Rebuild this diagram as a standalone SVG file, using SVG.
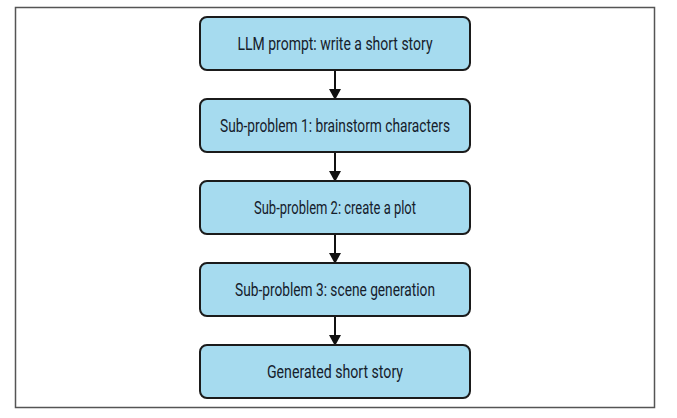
<svg xmlns="http://www.w3.org/2000/svg" width="677" height="418" viewBox="0 0 677 418">
<style>
.box{fill:#a6dbef;stroke:#1b1b1b;stroke-width:2}
.lbl{font-family:"Roboto","Liberation Sans",sans-serif;font-size:18.5px;fill:#15202b;text-anchor:middle;dominant-baseline:central}
.conn{stroke:#111;stroke-width:2;fill:none;marker-end:url(#ah)}
</style>
<defs>
<marker id="ah" markerWidth="13" markerHeight="12" refX="12" refY="6.5" orient="auto" markerUnits="userSpaceOnUse" viewBox="0 0 12 13">
<path d="M0,0 L12,6.5 L0,13 Z" fill="#111"/>
</marker>
</defs>
<rect x="0" y="0" width="677" height="418" fill="#fff"/>
<rect x="15.5" y="7.5" width="639" height="400" fill="none" stroke="#555" stroke-width="1.5"/>
<g id="connectors">
<line class="conn" x1="335" y1="70" x2="335" y2="100"/>
<line class="conn" x1="335" y1="152" x2="335" y2="182"/>
<line class="conn" x1="335" y1="234" x2="335" y2="264"/>
<line class="conn" x1="335" y1="316" x2="335" y2="346"/>
</g>
<g id="n1"><rect class="box" x="200" y="17" width="270" height="53" rx="7"/><text class="lbl" x="335" y="43.5" textLength="195" lengthAdjust="spacingAndGlyphs">LLM prompt: write a short story</text></g>
<g id="n2"><rect class="box" x="200" y="99" width="270" height="53" rx="7"/><text class="lbl" x="335" y="125.5" textLength="230" lengthAdjust="spacingAndGlyphs">Sub-problem 1: brainstorm characters</text></g>
<g id="n3"><rect class="box" x="200" y="181" width="270" height="53" rx="7"/><text class="lbl" x="335" y="207.5" textLength="162" lengthAdjust="spacingAndGlyphs">Sub-problem 2: create a plot</text></g>
<g id="n4"><rect class="box" x="200" y="263" width="270" height="53" rx="7"/><text class="lbl" x="335" y="289.5" textLength="200" lengthAdjust="spacingAndGlyphs">Sub-problem 3: scene generation</text></g>
<g id="n5"><rect class="box" x="200" y="345" width="270" height="53" rx="7"/><text class="lbl" x="335" y="371.5" textLength="136" lengthAdjust="spacingAndGlyphs">Generated short story</text></g>
</svg>
